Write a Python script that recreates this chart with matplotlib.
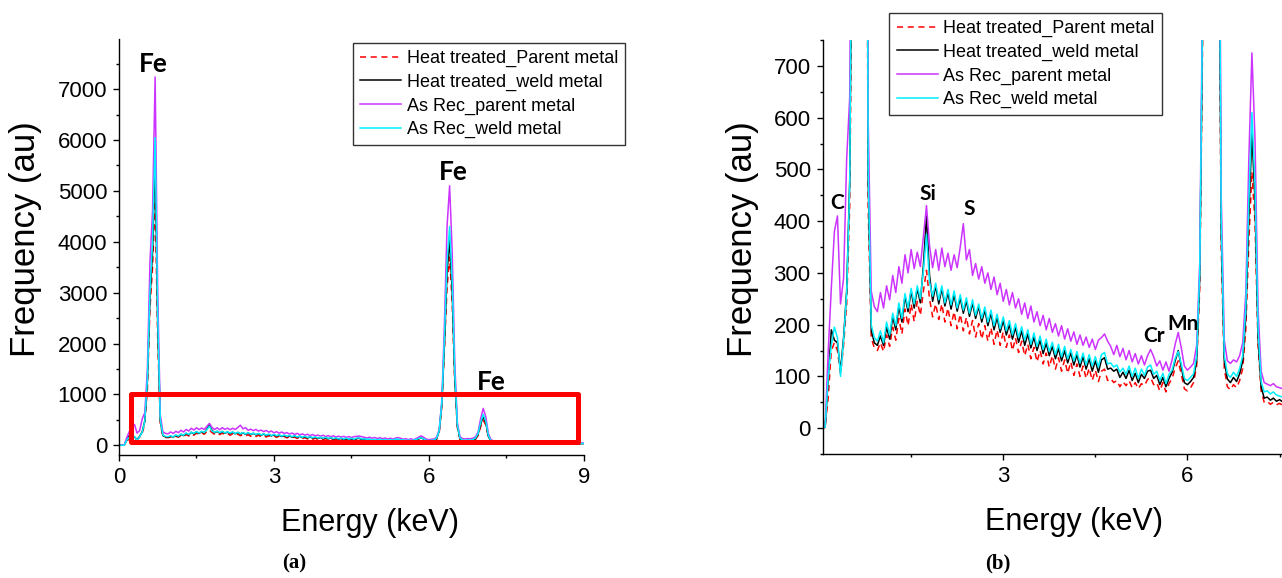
import numpy as np
import matplotlib
matplotlib.use("Agg")
import matplotlib.pyplot as plt
from matplotlib.patches import Rectangle

# EDS spectra, one value every 0.05 keV from 0 to 9 keV
ht_parent = [
    0, 0, 1, 60, 150, 165, 150, 105, 160, 240, 430, 1100, 2700, 3500, 4800, 2100, 430, 175, 155, 150,
    165, 148, 180, 158, 195, 170, 212, 182, 230, 198, 240, 206, 245, 218, 265, 305, 250, 215, 240, 210,
    240, 205, 232, 198, 225, 192, 220, 188, 214, 182, 208, 176, 202, 172, 198, 168, 194, 162, 190, 160,
    186, 156, 180, 150, 174, 146, 168, 140, 162, 134, 156, 128, 150, 124, 145, 118, 140, 114, 136, 110,
    132, 106, 128, 102, 124, 100, 120, 96, 116, 92, 112, 90, 110, 114, 92, 96, 88, 92, 80, 90,
    82, 92, 78, 88, 76, 86, 82, 94, 98, 84, 88, 72, 88, 70, 86, 96, 116, 130, 104, 76,
    72, 78, 88, 120, 270, 780, 1900, 3100, 3700, 2800, 1200, 350, 115, 80, 74, 84, 78, 92, 115, 190,
    360, 495, 400, 160, 72, 50, 52, 46, 50, 45, 48, 44, 44, 43, 42, 41, 41, 40, 39, 38,
    38, 37, 36, 36, 35, 34, 34, 33, 33, 32, 32, 31, 31, 30, 30, 30, 29, 29, 28, 28,
    28]
ht_weld = [
    0, 0, 2, 95, 190, 170, 165, 110, 175, 265, 480, 1250, 2900, 3800, 5650, 2350, 480, 190, 165, 160,
    178, 160, 195, 172, 215, 190, 235, 205, 255, 225, 265, 232, 270, 242, 315, 410, 295, 245, 275, 240,
    270, 236, 262, 230, 258, 226, 252, 222, 246, 216, 242, 212, 235, 205, 228, 198, 222, 190, 214, 185,
    208, 180, 200, 172, 195, 166, 188, 160, 182, 155, 176, 150, 170, 144, 164, 140, 158, 134, 154, 130,
    150, 126, 146, 122, 142, 118, 138, 114, 134, 110, 130, 108, 132, 136, 114, 116, 110, 114, 98, 108,
    96, 112, 92, 106, 88, 104, 96, 110, 112, 96, 102, 84, 98, 80, 96, 108, 130, 150, 118, 88,
    84, 90, 98, 130, 290, 820, 2000, 3400, 4050, 3000, 1300, 380, 130, 95, 88, 98, 90, 105, 130, 215,
    410, 570, 440, 175, 80, 58, 60, 54, 58, 52, 55, 51, 50, 49, 48, 48, 46, 45, 45, 44,
    43, 42, 42, 41, 40, 40, 39, 38, 38, 37, 37, 36, 35, 35, 34, 34, 33, 33, 32, 32,
    32]
ar_parent = [
    0, 0, 2, 150, 270, 380, 410, 240, 290, 520, 640, 1500, 3600, 4600, 7240, 3000, 600, 265, 235, 225,
    262, 232, 275, 248, 295, 262, 312, 280, 335, 300, 345, 308, 340, 312, 370, 430, 352, 310, 345, 305,
    348, 312, 338, 305, 335, 310, 350, 395, 325, 345, 295, 318, 288, 312, 280, 300, 268, 292, 258, 280,
    245, 268, 238, 262, 232, 250, 220, 242, 212, 236, 205, 225, 198, 218, 190, 212, 185, 202, 178, 198,
    172, 192, 168, 186, 162, 180, 160, 176, 156, 172, 152, 170, 175, 182, 168, 158, 142, 160, 138, 154,
    132, 150, 128, 144, 124, 140, 122, 140, 152, 138, 120, 130, 112, 128, 110, 132, 162, 185, 155, 120,
    112, 118, 125, 160, 320, 900, 2400, 4300, 5100, 3800, 1600, 450, 170, 130, 125, 132, 128, 140, 165, 260,
    520, 725, 560, 230, 110, 88, 85, 82, 86, 80, 78, 76, 74, 72, 73, 70, 68, 69, 66, 65,
    64, 62, 63, 60, 59, 58, 58, 56, 55, 55, 53, 52, 52, 50, 50, 48, 48, 47, 46, 45,
    45]
ar_weld = [
    0, 0, 2, 100, 160, 195, 175, 100, 170, 260, 470, 1300, 3000, 4000, 6050, 2500, 500, 200, 175, 168,
    188, 165, 205, 180, 222, 198, 242, 212, 260, 232, 270, 240, 275, 250, 305, 375, 282, 255, 280, 248,
    275, 242, 268, 238, 265, 232, 258, 228, 252, 222, 248, 218, 240, 212, 234, 205, 228, 198, 220, 192,
    215, 188, 208, 180, 202, 175, 196, 170, 190, 162, 184, 158, 178, 152, 172, 148, 166, 142, 162, 138,
    158, 134, 152, 130, 148, 126, 145, 122, 142, 120, 138, 118, 142, 146, 124, 126, 118, 122, 108, 116,
    104, 120, 100, 116, 96, 114, 102, 118, 122, 104, 110, 92, 106, 86, 104, 112, 135, 148, 124, 96,
    92, 98, 105, 140, 300, 850, 2100, 3600, 4300, 3200, 1400, 400, 140, 105, 98, 108, 100, 115, 140, 230,
    440, 610, 470, 190, 90, 70, 72, 66, 70, 64, 62, 60, 61, 58, 57, 56, 55, 53, 52, 51,
    50, 49, 48, 47, 46, 46, 45, 44, 43, 43, 42, 41, 40, 40, 39, 38, 38, 37, 36, 36,
    35]
energy = np.arange(181) * 0.05

labels = ["Heat treated_Parent metal", "Heat treated_weld metal",
          "As Rec_parent metal", "As Rec_weld metal"]
colors = ["#ff0000", "#000000", "#cc33ff", "#00f0ff"]
series = [ht_parent, ht_weld, ar_parent, ar_weld]

# peak labels: (text, energy, height)
peaks_a = [("Fe", 0.66, 7500), ("Fe", 6.47, 5370), ("Fe", 7.2, 1250)]
peaks_b = [("C", 0.30, 436), ("Si", 1.78, 453), ("S", 2.44, 424),
           ("Cr", 5.46, 178), ("Mn", 5.93, 202)]

plt.rcParams["font.family"] = ["Liberation Sans", "DejaVu Sans"]

fig = plt.figure(figsize=(12.82, 5.78), dpi=100)
ax1 = fig.add_axes([0.0928, 0.2133, 0.3627, 0.7187])
ax2 = fig.add_axes([0.6416, 0.2145, 0.3584, 0.7163])


def draw(ax):
    for y, c, lab in zip(series, colors, labels):
        ls = (0, (4, 3)) if c == "#ff0000" else "-"
        ax.plot(energy, y, color=c, lw=1.1, ls=ls, label=lab)
    for s in ["top", "right"]:
        ax.spines[s].set_visible(False)
    for s in ["left", "bottom"]:
        ax.spines[s].set_linewidth(1.0)
    ax.tick_params(which="major", direction="out", length=4.5, width=1,
                   labelsize=16, pad=4)
    ax.tick_params(which="minor", direction="out", length=2.5, width=1)


draw(ax1)
ax1.set_xlim(0, 9)
ax1.set_ylim(-185, 7980)
ax1.set_xticks([0, 3, 6, 9])
ax1.set_xticks([1.5, 4.5, 7.5], minor=True)
ax1.set_yticks(range(0, 7001, 1000))
ax1.set_yticks(range(500, 7600, 1000), minor=True)
ax1.add_patch(Rectangle((0.24, 59), 8.64, 957, fill=False, ec="#ff0000",
                        lw=3.6, joinstyle="round", zorder=5))
for t, x, y in peaks_a:
    ax1.text(x, y, t, ha="center", va="center", fontsize=19,
             fontweight="bold", family=["Lato", "DejaVu Sans"])

draw(ax2)
ax2.set_xlim(0.057, 7.54)
ax2.set_ylim(-50, 750)
ax2.set_xticks([3, 6])
ax2.set_xticks([1.5, 4.5, 7.5], minor=True)
ax2.set_yticks(range(0, 701, 100))
ax2.set_yticks(range(-50, 751, 100), minor=True)
for t, x, y in peaks_b:
    ax2.text(x, y, t, ha="center", va="center", fontsize=15,
             fontweight="bold", family=["Lato", "DejaVu Sans"])

for ax, lx, ly, yx, yy in [(ax1, 0.54, -0.164, -0.2, 0.52),
                           (ax2, 0.547, -0.1635, -0.174, 0.52)]:
    ax.set_xlabel("Energy (keV)", fontsize=22, va="center")
    ax.xaxis.set_label_coords(lx, ly)
    ax.set_ylabel("Frequency (au)", fontsize=25, va="center")
    ax.yaxis.set_label_coords(yx, yy)

for ax, ax_pos in [(ax1, (0.275, 0.926)), (ax2, (0.6937, 0.978))]:
    leg = ax.legend(loc="upper left", bbox_to_anchor=ax_pos,
                    bbox_transform=fig.transFigure, fontsize=13,
                    frameon=True, fancybox=False, borderpad=0.4,
                    labelspacing=0.36, handlelength=2.3, handletextpad=0.3,
                    borderaxespad=0)
    leg.get_frame().set_edgecolor("black")
    leg.get_frame().set_linewidth(1.0)
    leg.set_zorder(10)

fig.text(294 / 1282, 1 - 563 / 578, "(a)", ha="center", va="center",
         fontsize=15, fontweight="bold", family=["Liberation Serif", "DejaVu Serif"])
fig.text(998 / 1282, 1 - 563 / 578, "(b)", ha="center", va="center",
         fontsize=15, fontweight="bold", family=["Liberation Serif", "DejaVu Serif"])

fig.savefig("out.png", dpi=100)
